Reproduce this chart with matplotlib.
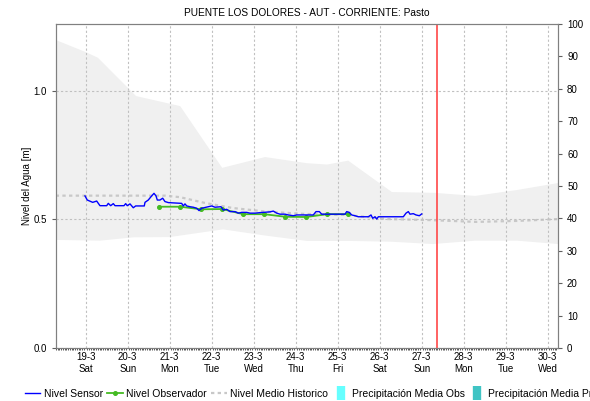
import numpy as np
import matplotlib.pyplot as plt
from matplotlib.lines import Line2D
from matplotlib.ticker import MultipleLocator

plt.rcParams['font.family'] = ['Liberation Sans', 'DejaVu Sans']

# --- data (x in days of March, levels in metres) ---
sensor_t = [18.983, 19.038, 19.167, 19.262, 19.340, 19.500, 19.538, 19.595, 19.657, 19.698,
            19.912, 19.952, 19.990, 20.055, 20.133, 20.190, 20.395, 20.412, 20.490, 20.571,
            20.626, 20.674, 20.705, 20.769, 20.833, 20.888, 20.967, 21.286, 21.324, 21.364,
            21.405, 21.483, 21.562, 21.643, 21.698, 21.762, 21.919, 22.000, 22.079, 22.221,
            22.276, 22.357, 22.436, 22.555, 22.633, 22.714, 22.833, 22.912, 23.031, 23.150,
            23.388, 23.467, 23.548, 23.626, 23.745, 23.824, 23.943, 24.024, 24.419, 24.483,
            24.562, 24.619, 25.174, 25.214, 25.276, 25.333, 25.412, 25.490, 25.729, 25.793,
            25.833, 25.888, 25.929, 25.967, 26.562, 26.626, 26.681, 26.721, 26.800, 26.864,
            26.943, 27.000]
sensor_v = [0.591, 0.575, 0.566, 0.571, 0.553, 0.553, 0.562, 0.553, 0.561, 0.553,
            0.553, 0.561, 0.553, 0.560, 0.545, 0.552, 0.552, 0.566, 0.575, 0.591,
            0.601, 0.591, 0.575, 0.575, 0.582, 0.569, 0.565, 0.562, 0.552, 0.560,
            0.552, 0.549, 0.547, 0.543, 0.534, 0.543, 0.549, 0.552, 0.547, 0.549,
            0.536, 0.539, 0.530, 0.530, 0.524, 0.527, 0.527, 0.524, 0.524, 0.526,
            0.529, 0.532, 0.524, 0.520, 0.520, 0.517, 0.514, 0.517, 0.517, 0.530,
            0.530, 0.520, 0.520, 0.530, 0.527, 0.517, 0.514, 0.510, 0.510, 0.517,
            0.504, 0.510, 0.501, 0.510, 0.510, 0.524, 0.530, 0.520, 0.522, 0.517,
            0.514, 0.521]

obs_t = [20.75, 21.25, 21.75, 22.25, 22.75, 23.25, 23.75, 24.25, 24.75, 25.25]
obs_v = [0.549, 0.549, 0.539, 0.540, 0.520, 0.520, 0.510, 0.509, 0.520, 0.520]

mean_t = [18.286, 20.9, 21.25, 21.8, 22.5, 23.3, 24.2, 25.2, 26.2, 27.2, 28.3, 29.3, 30.245]
mean_v = [0.592, 0.592, 0.586, 0.565, 0.544, 0.530, 0.521, 0.517, 0.501, 0.497, 0.490, 0.494, 0.501]

hist_max_t = [18.286, 19.0, 19.29, 20.20, 21.25, 22.25, 23.27, 24.27, 24.75, 25.25,
              26.29, 27.30, 28.27, 29.27, 30.245]
hist_max_v = [1.197, 1.150, 1.128, 0.979, 0.940, 0.700, 0.742, 0.718, 0.713, 0.728,
              0.606, 0.603, 0.591, 0.614, 0.641]
hist_min_t = [18.286, 19.34, 20.13, 21.0, 22.27, 23.27, 24.27, 25.29, 26.27, 27.27,
              28.27, 29.27, 30.245]
hist_min_v = [0.420, 0.417, 0.430, 0.431, 0.461, 0.437, 0.416, 0.416, 0.413, 0.404,
              0.417, 0.417, 0.404]

days = list(range(19, 31))
weekdays = ['Sat', 'Sun', 'Mon', 'Tue', 'Wed', 'Thu', 'Fri', 'Sat', 'Sun', 'Mon', 'Tue', 'Wed']
now_t = 27.36

fig = plt.figure(figsize=(5.9, 4.01), dpi=100)
ax = fig.add_axes([0.0944, 0.1322, 0.8514, 0.8079])

# historical band
ax.fill(np.r_[hist_max_t, hist_min_t[::-1]], np.r_[hist_max_v, hist_min_v[::-1]],
        color='#f0f0f0', lw=0, zorder=0)

ax.plot(mean_t, mean_v, color='#c8c8c8', lw=1.6, ls=(0, (1.5, 1.5)), zorder=2)
ax.plot(obs_t, obs_v, color='#44bb22', lw=1.3, marker='o', ms=2.6, zorder=3)
ax.plot(sensor_t, sensor_v, color='#0000ff', lw=1.0, zorder=4)
ax.axvline(now_t, color='#ff4848', lw=1.2, zorder=5)

ax.set_xlim(18.286, 30.245)
ax.set_ylim(0, 1.259)
ax.set_xticks(days)
ax.set_xticklabels([f'{d}-3\n{w}' for d, w in zip(days, weekdays)])
ax.xaxis.set_minor_locator(MultipleLocator(1 / 24))
ax.set_yticks([0.0, 0.5, 1.0])
ax.yaxis.set_major_formatter(plt.FormatStrFormatter('%.1f'))
ax.grid(True, color='#c0c0c0', ls=(0, (2, 2)), lw=0.8, zorder=1)
ax.set_axisbelow(False)
ax.tick_params(axis='x', which='major', length=0, labelsize=7, pad=3)
ax.tick_params(axis='x', which='minor', length=1.5, width=0.6, color='#404040')
ax.tick_params(axis='y', length=3, labelsize=7, color='#606060')
ax.set_ylabel('Nivel del Agua [m]', fontsize=7, labelpad=1)
for s in ax.spines.values():
    s.set_color('#808080')

ax2 = ax.twinx()
ax2.set_ylim(0, 100)
ax2.set_yticks(range(0, 101, 10))
ax2.tick_params(axis='y', length=3, labelsize=7, color='#606060')
ax2.set_ylabel('Precipitación [mm]', fontsize=7, rotation=270, labelpad=14)
for s in ax2.spines.values():
    s.set_color('#808080')

ax.set_title('PUENTE LOS DOLORES - AUT - CORRIENTE: Pasto', fontsize=7.3, pad=6)

handles = [
    Line2D([], [], color='#0000ff', lw=1.0),
    Line2D([], [], color='#44bb22', lw=1.3, marker='o', ms=2.6),
    Line2D([], [], color='#c8c8c8', lw=1.6, ls=(0, (1.5, 1.5))),
    Line2D([], [], ls='none', marker='|', ms=10, mew=6, color='#66ffff'),
    Line2D([], [], ls='none', marker='|', ms=10, mew=6, color='#40c4c4'),
]
labels = ['Nivel Sensor', 'Nivel Observador', 'Nivel Medio Historico',
          'Precipitación Media Obs', 'Precipitación Media Pronosticada']
fig.legend(handles, labels, loc='lower left', bbox_to_anchor=(0.035, -0.005), ncol=5,
           frameon=False, fontsize=7.5, handlelength=1.5, handletextpad=0.3,
           columnspacing=0.45, borderaxespad=0)

fig.savefig('out.png', dpi=100)
